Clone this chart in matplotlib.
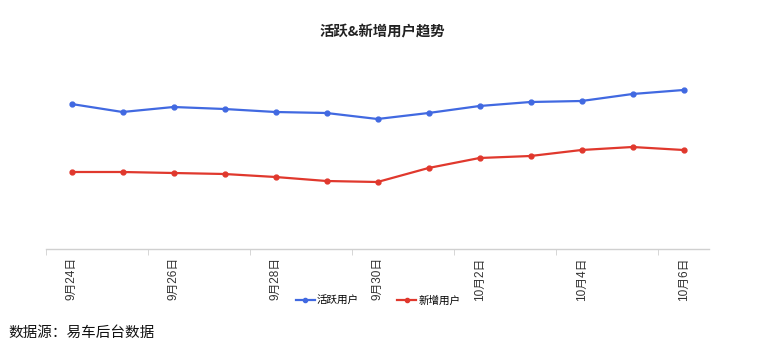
import matplotlib
matplotlib.use("Agg")
import matplotlib.pyplot as plt
from matplotlib.lines import Line2D

plt.rcParams['font.family'] = ['Noto Sans CJK SC', 'DejaVu Sans']

# data (no y scale shown, arbitrary units)
dates = ['9月24日', '9月25日', '9月26日', '9月27日', '9月28日', '9月29日', '9月30日',
         '10月1日', '10月2日', '10月3日', '10月4日', '10月5日', '10月6日']
active = [145, 137, 142, 140, 137, 136, 130, 136, 143, 147, 148, 155, 159]
new_users = [77, 77, 76, 75, 72, 68, 67, 81, 91, 93, 99, 102, 99]

blue = '#4169e1'
red = '#e0382d'

W, H = 774, 355
fig = plt.figure(figsize=(W / 100, H / 100), dpi=100)
# axes box in pixels: x 46..709, y 60..249
ax = fig.add_axes([46 / W, (H - 249) / H, (709 - 46) / W, (249 - 60) / H])

x = list(range(len(dates)))
ax.plot(x, active, color=blue, lw=1.6, marker='o', ms=3.5, label='活跃用户')
ax.plot(x, new_users, color=red, lw=1.6, marker='o', ms=3.5, label='新增用户')

ax.set_xlim(-0.5, len(dates) - 0.5)
ax.set_ylim(0, 189)

for s in ['top', 'right', 'left']:
    ax.spines[s].set_visible(False)
ax.spines['bottom'].set_color('#d0d0d0')
ax.spines['bottom'].set_linewidth(1)
ax.set_yticks([])

ax.set_xticks(x[::2])
ax.set_xticklabels(dates[::2], rotation=90, fontsize=8.5, color='#333333', va='top',
                   family=['Liberation Sans', 'Noto Sans CJK SC'])
ax.set_xticks([i - 0.5 for i in x[::2]], minor=True)
ax.tick_params(axis='x', which='major', length=0, pad=6)
ax.tick_params(axis='x', which='minor', length=4, color='#d0d0d0')

fig.text(382 / W, 1 - 32 / H, '活跃&新增用户趋势', ha='center', va='center',
         fontsize=10.4, fontweight='bold', color='#222222')

handles = [Line2D([0], [0], color=blue, lw=1.6, marker='o', ms=3),
           Line2D([0], [0], color=red, lw=1.6, marker='o', ms=3)]
fig.legend(handles, ['活跃用户', '新增用户'], loc='center', ncol=2,
           bbox_to_anchor=(378 / W, 1 - 301 / H), frameon=False, fontsize=7.6,
           handlelength=1.8, handletextpad=0.2, columnspacing=3.6)

fig.text(8 / W, 1 - 333 / H, '数据源：易车后台数据', ha='left', va='center',
         fontsize=10.5, color='#111111')

fig.savefig('out.png', dpi=100, facecolor='white')
